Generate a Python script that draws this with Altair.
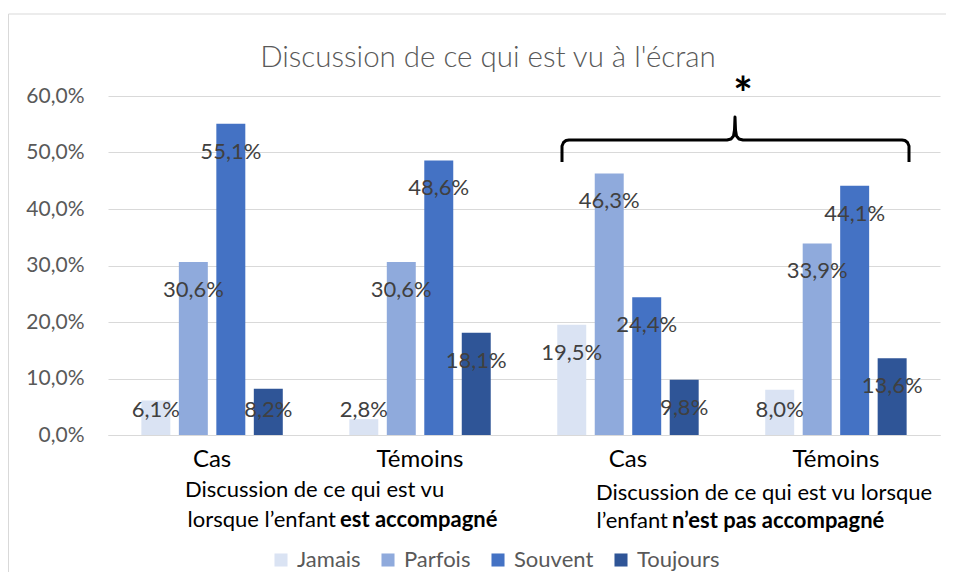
import altair as alt
import pandas as pd

# ---- data ----
group_keys = ["g1", "g2", "g3", "g4"]
group_labels = ["Cas", "Témoins", "Cas", "Témoins"]
series = ["Jamais", "Parfois", "Souvent", "Toujours"]
colors = ["#DAE3F3", "#8FAADC", "#4472C4", "#2F5597"]
values = {
    "g1": [6.1, 30.6, 55.1, 8.2],
    "g2": [2.8, 30.6, 48.6, 18.1],
    "g3": [19.5, 46.3, 24.4, 9.8],
    "g4": [8.0, 33.9, 44.1, 13.6],
}
y_ticks = [0, 10, 20, 30, 40, 50, 60]
title_text = "Discussion de ce qui est vu à l'écran"

rows = []
for g in group_keys:
    for s, v in zip(series, values[g]):
        rows.append({"group": g, "serie": s, "value": v})
df = pd.DataFrame(rows)

FONT = "Lato"
W, H = 832, 339

label_expr = " : ".join(
    f"datum.value == '{k}' ? '{l}'" for k, l in zip(group_keys, group_labels)
) + " : ''"

x_enc = alt.X(
    "group:N",
    sort=group_keys,
    scale=alt.Scale(paddingInner=0.279, paddingOuter=0.14),
    axis=alt.Axis(
        title=None, labelExpr=label_expr, labelFontSize=24, labelColor="#000000",
        labelFont=FONT, ticks=False, domainColor="#D9D9D9", labelPadding=12,
        labelAngle=0, grid=False,
    ),
)
xoff_enc = alt.XOffset(
    "serie:N", sort=series,
    scale=alt.Scale(paddingInner=0.227, paddingOuter=0.1135),
)
y_scale = alt.Scale(domain=[0, 60], nice=False)

bars = alt.Chart(df).mark_bar().encode(
    x=x_enc,
    xOffset=xoff_enc,
    y=alt.Y(
        "value:Q", scale=y_scale,
        axis=alt.Axis(
            title=None, values=y_ticks,
            labelExpr="replace(format(datum.value, '.1f'), '.', ',') + '%'",
            labelFontSize=21, labelColor="#595959", labelFont=FONT,
            ticks=False, domain=False, gridColor="#D9D9D9", labelPadding=24,
        ),
    ),
    color=alt.Color(
        "serie:N", sort=series,
        scale=alt.Scale(domain=series, range=colors),
        legend=alt.Legend(
            title=None, orient="none", direction="horizontal",
            legendX=162, legendY=453, symbolType="square", symbolSize=170,
            symbolStrokeWidth=0, labelFontSize=22, labelColor="#595959",
            labelFont=FONT, columnPadding=16, labelOffset=5,
        ),
    ),
)

texts = alt.Chart(df).transform_calculate(
    label="replace(format(datum.value, '.1f'), '.', ',') + '%'",
    pos="max(datum.value - 4.96, 4.42)",
).mark_text(baseline="middle", fontSize=22, color="#404040", font=FONT).encode(
    x=alt.X("group:N", sort=group_keys),
    xOffset=alt.XOffset("serie:N", sort=series),
    y=alt.Y("pos:Q", scale=y_scale),
    text="label:N",
)

# ---- annotations (pixel positions relative to plot area) ----
one = pd.DataFrame({"a": [0]})

frame = alt.Chart(one).mark_rect(fill=None, stroke="#D9D9D9", strokeWidth=1).encode(
    x=alt.value(-99.5), x2=alt.value(900), y=alt.value(-82), y2=alt.value(600)
)

title = alt.Chart(one).mark_text(
    text=title_text, fontSize=29.5, color="#595959", font=FONT, fontWeight=300,
    baseline="middle", align="center",
).encode(x=alt.value(380), y=alt.value(-38))

def txt(s, x, y, bold=False, align="left"):
    return alt.Chart(one).mark_text(
        text=s, fontSize=22, color="#000000", font=FONT,
        fontWeight="bold" if bold else "normal", align=align, baseline="middle",
    ).encode(x=alt.value(x), y=alt.value(y))

subs = [
    txt("Discussion de ce qui est vu", 77, 394),
    txt("lorsque l\u2019enfant", 228, 424, align="right"),
    txt("est accompagné", 232, 424, bold=True),
    txt("Discussion de ce qui est vu lorsque", 488, 397),
    txt("l\u2019enfant", 560, 425, align="right"),
    txt("n\u2019est pas accompagné", 564, 425, bold=True),
]

brace_x = [454, 454, 455.5, 458, 461, 619, 623, 625.5, 626.5, 627, 627.5, 628.5, 631, 635, 794, 797, 799.5, 801, 801]
brace_y = [66, 50, 46.5, 44.5, 44, 44, 43, 40, 34, 21, 34, 40, 43, 44, 44, 44.5, 46.5, 50, 66]
brace_df = pd.DataFrame({"px": brace_x, "py": brace_y, "o": list(range(len(brace_x)))})
brace = alt.Chart(brace_df).mark_line(color="#000000", strokeWidth=3, strokeJoin="round").encode(
    x=alt.X("px:Q", scale=None, axis=None),
    y=alt.Y("py:Q", scale=None, axis=None),
    order="o:Q",
)

star = alt.Chart(one).mark_text(
    text="*", fontSize=46, fontWeight="bold", color="#000000", font=FONT,
    baseline="middle", align="center",
).encode(x=alt.value(635), y=alt.value(0))

chart = alt.layer(frame, bars, texts, title, *subs, brace, star).properties(
    width=W, height=H,
    autosize=alt.AutoSizeParams(type="none"),
    padding={"left": 100, "top": 88, "right": 6, "bottom": 137},
    background="white",
).configure_view(stroke=None)

chart.save("out.html", embed_options={"renderer": "svg", "actions": False})
